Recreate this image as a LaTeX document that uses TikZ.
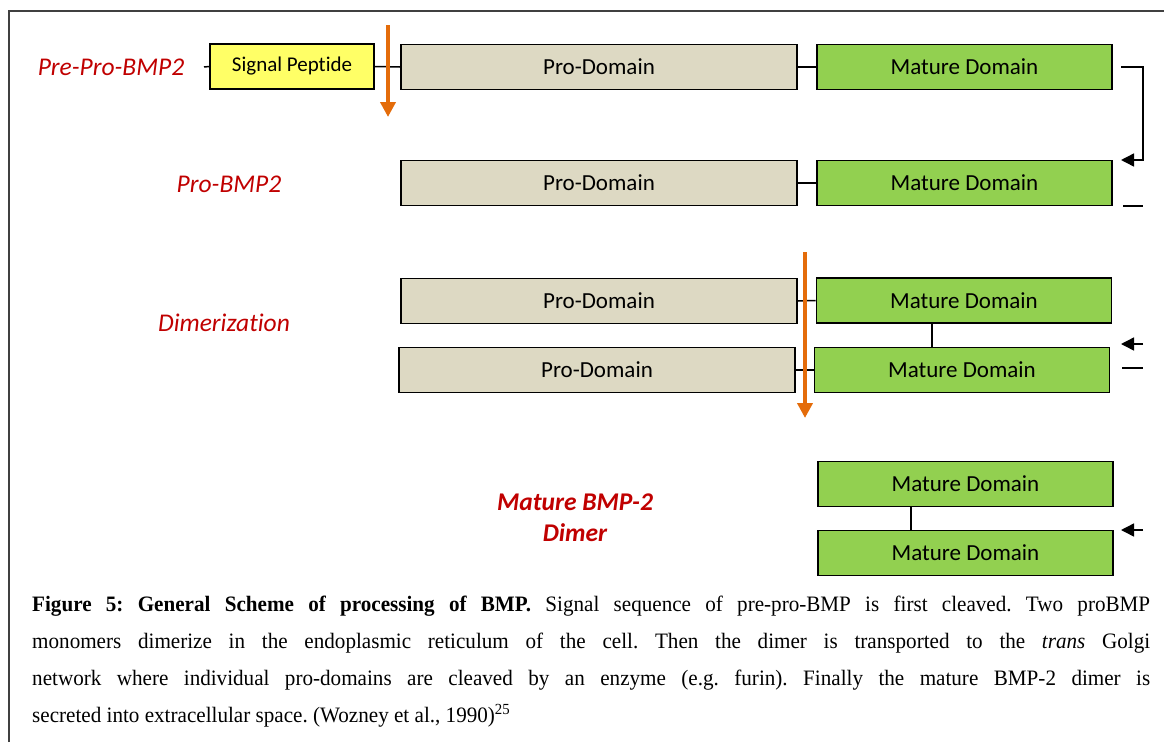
\documentclass[tikz,border=0pt]{standalone}
\usepackage{fontspec}
\setmainfont{Liberation Serif}
\newfontfamily\calfont{Carlito}[Ligatures=NoCommon]
\newfontfamily\capfont{Liberation Serif}[FakeStretch=0.96]
\usetikzlibrary{arrows.meta}
\definecolor{probg}{HTML}{DDD9C3}
\definecolor{matgreen}{HTML}{92D050}
\definecolor{sigyellow}{HTML}{FFFF66}
\definecolor{labred}{HTML}{C00000}
\definecolor{cleaveorange}{HTML}{E46C0A}
\definecolor{framegray}{HTML}{404040}
\tikzset{
  box/.style={draw=black, line width=1.8pt, minimum height=45pt, inner sep=0pt,
    font=\calfont\fontsize{23}{27}\selectfont},
  probox/.style={box, fill=probg, minimum width=396pt},
  matbox/.style={box, fill=matgreen, minimum width=295pt},
  sigbox/.style={box, fill=sigyellow, minimum width=164pt, font=\calfont\fontsize{21}{25}\selectfont},
  lbl/.style={text=labred, font=\calfont\itshape\fontsize{25.5}{30}\selectfont},
  conn/.style={line width=1.5pt},
  cleave/.style={draw=cleaveorange, line width=4.5pt,
    -{Triangle[width=15pt,length=15pt]}},
  flow/.style={line width=1.5pt, -{Triangle[width=13pt,length=13pt]}}
}
\begin{document}
\begin{tikzpicture}[x=1pt,y=-1pt]
\useasboundingbox (0,0) rectangle (1164,742);
% frame
\coordinate (fbl) at (9,742);
\coordinate (ftl) at (9,11);
\coordinate (ftr) at (1164,11);
\draw[line width=2pt, framegray] (fbl) -- (ftl) -- (ftr);

% row 1
\node[lbl] (l1) at (111,67) {Pre-Pro-BMP2};
\node[sigbox] (sig) at (292,66.5) {Signal Peptide};
\node[probox] (p1) at (599,67) {Pro-Domain};
\node[matbox] (m1) at (964.5,67) {Mature Domain};
\coordinate (s0) at (204,67);
\draw[conn] (s0) -- (sig.west);
\draw[conn] (sig.east) -- (p1.west);
\draw[conn] (p1.east) -- (m1.west);

% row 2
\node[lbl] (l2) at (229,184) {Pro-BMP2};
\node[probox] (p2) at (599,183) {Pro-Domain};
\node[matbox] (m2) at (964.5,183) {Mature Domain};
\draw[conn] (p2.east) -- (m2.west);

% dimer
\node[lbl] (l3) at (224,323) {Dimerization};
\node[probox] (p3) at (599,301) {Pro-Domain};
\node[matbox] (m3) at (964,300.5) {Mature Domain};
\node[probox] (p4) at (597,370) {Pro-Domain};
\node[matbox] (m4) at (962,370) {Mature Domain};
\draw[conn] (p3.east) -- (m3.west);
\draw[conn] (p4.east) -- (m4.west);
\coordinate (v1) at (932,0);
\draw[conn] (m3.south -| v1) -- (m4.north -| v1);

% mature dimer
\node[lbl, font=\calfont\bfseries\itshape\fontsize{25.5}{31}\selectfont, align=center] (l4) at (575,518) {Mature BMP-2\\Dimer};
\node[matbox] (m5) at (965.5,484) {Mature Domain};
\node[matbox] (m6) at (965.5,553) {Mature Domain};
\coordinate (v2) at (911,0);
\draw[conn] (m5.south -| v2) -- (m6.north -| v2);

% cleavage arrows
\coordinate (a1s) at (388,25);
\coordinate (a1e) at (388,117);
\draw[cleave] (a1s) -- (a1e);
\coordinate (a2s) at (805,252);
\coordinate (a2e) at (805,418);
\draw[cleave] (a2s) -- (a2e);

% right-side flow brackets
\coordinate (b1a) at (1121,67);
\coordinate (b1b) at (1143,67);
\coordinate (b1c) at (1143,160);
\coordinate (b1d) at (1121,160);
\draw[flow] (b1a) -- (b1b) -- (b1c) -- (b1d);
\coordinate (b2a) at (1123,206);
\coordinate (b2b) at (1143,206);
\draw[conn] (b2a) -- (b2b);
\coordinate (b3a) at (1143,344);
\coordinate (b3b) at (1121,344);
\draw[flow] (b3a) -- (b3b);
\coordinate (b4a) at (1122,368);
\coordinate (b4b) at (1143,368);
\draw[conn] (b4a) -- (b4b);
\coordinate (b5a) at (1143,530);
\coordinate (b5b) at (1121,530);
\draw[flow] (b5a) -- (b5b);

% caption
\node[anchor=base west, inner sep=0pt, text width=1118pt, align=justify,
  font=\capfont\fontsize{22}{37}\selectfont\frenchspacing] (cap) at (32,611)
{\textbf{Figure 5: General Scheme of processing of BMP.} Signal sequence of pre-pro-BMP is first cleaved. Two proBMP\linebreak
monomers dimerize in the endoplasmic reticulum of the cell. Then the dimer is transported to the \textit{trans} Golgi\linebreak
network where individual pro-domains are cleaved by an enzyme (e.g. furin). Finally the mature BMP-2 dimer is\linebreak
secreted into extracellular space. (Wozney et al., 1990)\textsuperscript{25}};
\end{tikzpicture}
\end{document}
